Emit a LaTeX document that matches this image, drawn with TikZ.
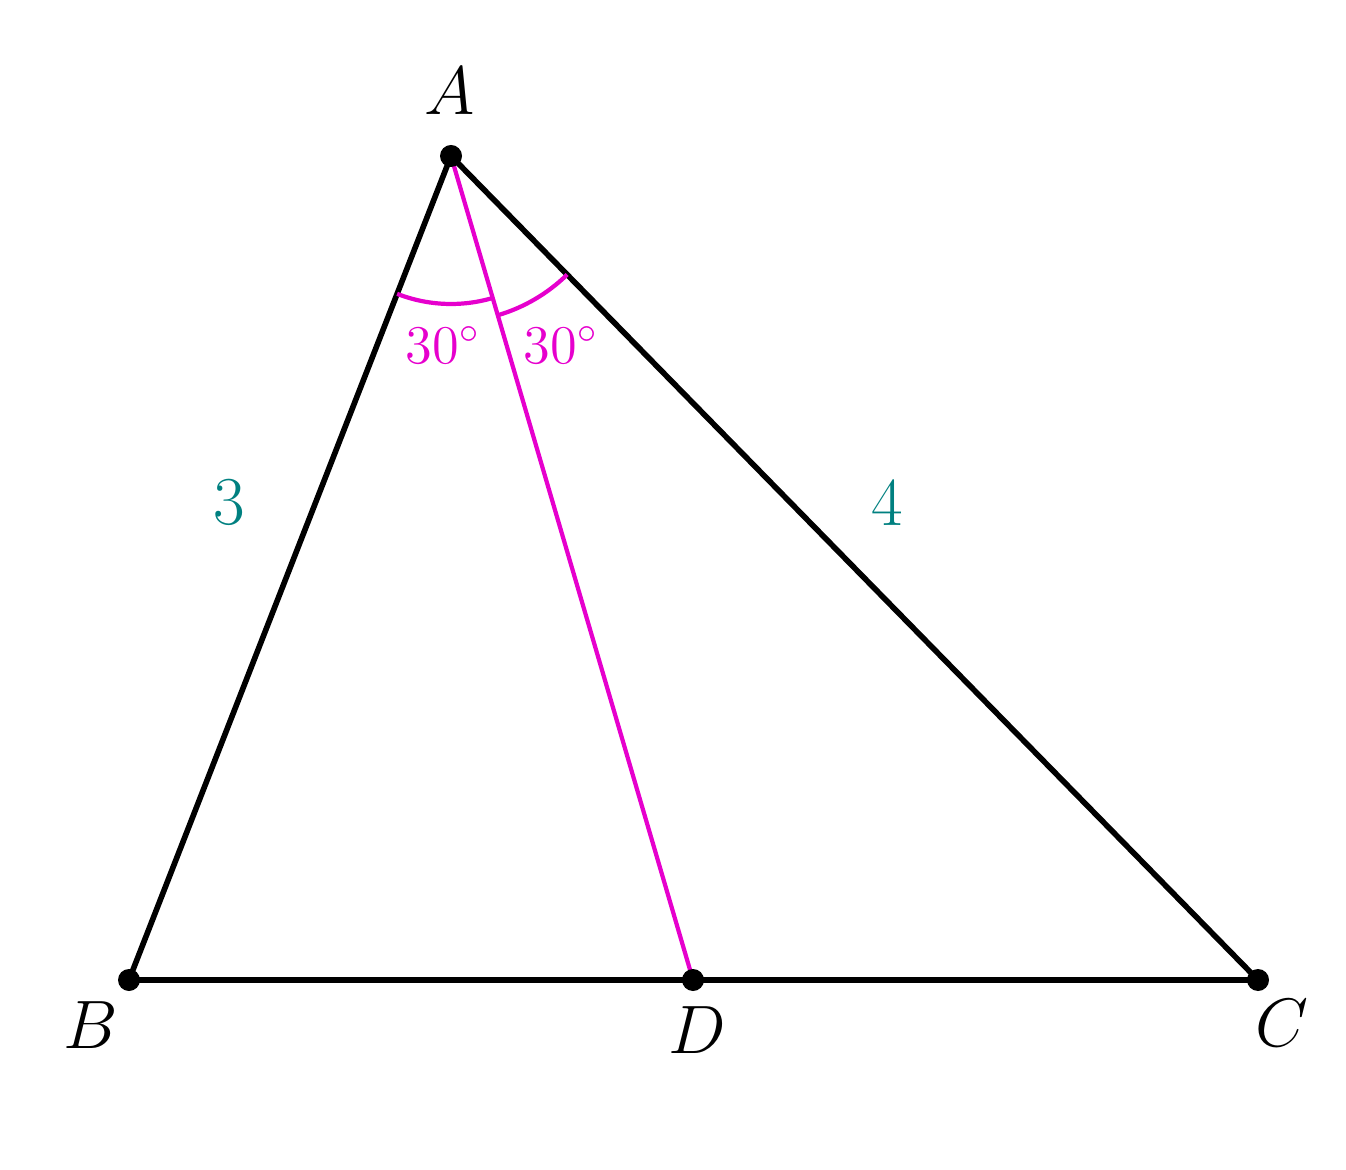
\documentclass[tikz,border=0pt]{standalone}
\usepackage{fix-cm}
\usetikzlibrary{angles}
\definecolor{mag}{RGB}{230,0,205}
\definecolor{tealc}{RGB}{0,128,128}
\begin{document}
\begin{tikzpicture}
\useasboundingbox (0,0) rectangle (13.46,11.69);
\tikzset{
  side/.style={line width=1.6pt, black},
  bis/.style={line width=1.2pt, mag},
  dot/.style={fill=black},
  lab/.style={font=\fontsize{19.5}{23}\selectfont},
  anglab/.style={font=\fontsize{15.5}{18}\selectfont, text=mag},
  lenlab/.style={font=\fontsize{19.5}{23}\selectfont, text=tealc}
}
\coordinate (A) at (4.51,10.13);
\coordinate (B) at (1.29,1.89);
\coordinate (D) at (6.93,1.89);
\coordinate (C) at (12.58,1.89);

\draw[side] (A) -- (B) -- (C) -- cycle;
\draw[bis] (A) -- (D);
\pic[draw=mag, line width=1.2pt, angle radius=1.48cm] {angle = B--A--D};
\pic[draw=mag, line width=1.2pt, angle radius=1.66cm] {angle = D--A--C};

\foreach \p in {A,B,C,D} \fill[dot] (\p) circle (0.11);

\node[lab] (la) at (4.50,10.78) {$A$};
\node[lab] (lb) at (0.91,1.44) {$B$};
\node[lab] (ld) at (6.97,1.39) {$D$};
\node[lab] (lc) at (12.82,1.46) {$C$};
\node[lenlab] (l3) at (2.29,6.67) {$3$};
\node[lenlab] (l4) at (8.87,6.66) {$4$};
\node[anglab] (a1) at (4.43,8.24) {$30^\circ$};
\node[anglab] (a2) at (5.61,8.24) {$30^\circ$};
\end{tikzpicture}
\end{document}
